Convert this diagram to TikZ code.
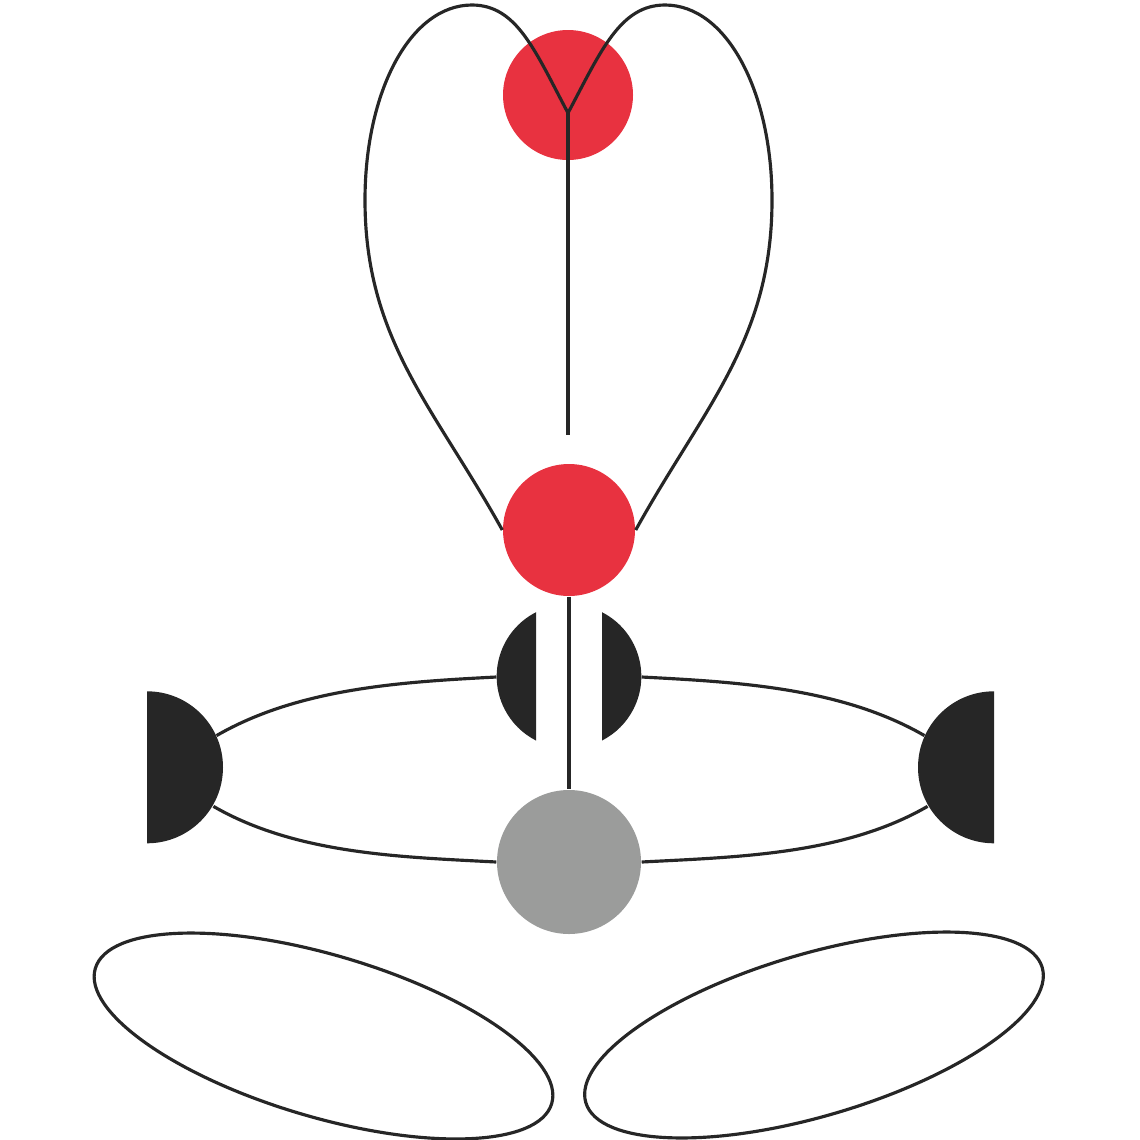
\documentclass[tikz,border=0pt]{standalone}
\usetikzlibrary{shapes.geometric}
\definecolor{heartred}{RGB}{232,50,64}
\definecolor{bodygray}{RGB}{155,156,155}
\definecolor{darkfill}{RGB}{38,38,38}
\tikzset{
    line/.style={draw=darkfill, line width=0.9pt},
    dot/.style={circle, inner sep=0pt, minimum size=#1},
    leaf/.style={draw=darkfill, line width=0.9pt, ellipse, inner sep=0pt, minimum width=4.76cm, minimum height=1.62cm}
}
\begin{document}
\begin{tikzpicture}
        \useasboundingbox (0, 0) rectangle (11.4, -11.4);
        \node[dot=1.30cm, fill=heartred] at (5.68, -0.95) (crown) {};
        \node[dot=1.32cm, fill=heartred] at (5.69, -5.30) (heart) {};
        \node[dot=1.44cm] at (5.69, -6.77) (throat) {};
        \node[dot=1.52cm] at (1.47, -7.68) (handl) {};
        \node[dot=1.52cm] at (9.94, -7.68) (handr) {};
        \coordinate (j) at (5.68, -1.13);
        \coordinate (stem) at (5.68, -4.35);
        \coordinate (ltop) at (4.72, -0.05);
        \coordinate (rtop) at (6.65, -0.05);
        \coordinate (lside) at (3.65, -2.00);
        \coordinate (rside) at (7.72, -2.00);
        \draw[line] (j) .. controls +(118:0.7) and +(0.45, 0) .. (ltop)
            .. controls +(-0.62, 0) and +(0, 1.08) .. (lside)
            .. controls +(0, -1.4) and +(119:1.4) .. (heart.west);
        \draw[line] (j) .. controls +(62:0.7) and +(-0.45, 0) .. (rtop)
            .. controls +(0.62, 0) and +(0, 1.08) .. (rside)
            .. controls +(0, -1.4) and +(61:1.4) .. (heart.east);
        \draw[line] (j) -- (stem);
        \draw[line] (throat.west) to[out=183, in=30, looseness=0.85] (handl.25);
        \draw[line] (throat.east) to[out=-3, in=150, looseness=0.85] (handr.155);
        \node[dot=1.44cm, fill=bodygray] at (5.69, -8.62) (root) {};
        \draw[line] (root.west) to[out=177, in=-30, looseness=0.85] (handl.-30);
        \draw[line] (root.east) to[out=3, in=-150, looseness=0.85] (handr.-150);
        \draw[line] (heart.south) -- (root.north);
        \fill[darkfill] (throat.117) arc[start angle=117, end angle=243, radius=0.72] -- cycle;
        \fill[darkfill] (throat.63) arc[start angle=63, end angle=-63, radius=0.72] -- cycle;
        \fill[darkfill] (handl.north) arc[start angle=90, end angle=-90, radius=0.76] -- cycle;
        \fill[darkfill] (handr.north) arc[start angle=90, end angle=270, radius=0.76] -- cycle;
        \node[leaf, rotate=-16.5] at (3.235, -10.36) (footl) {};
        \node[leaf, rotate=16.5] at (8.14, -10.35) (footr) {};
    \end{tikzpicture}
\end{document}
